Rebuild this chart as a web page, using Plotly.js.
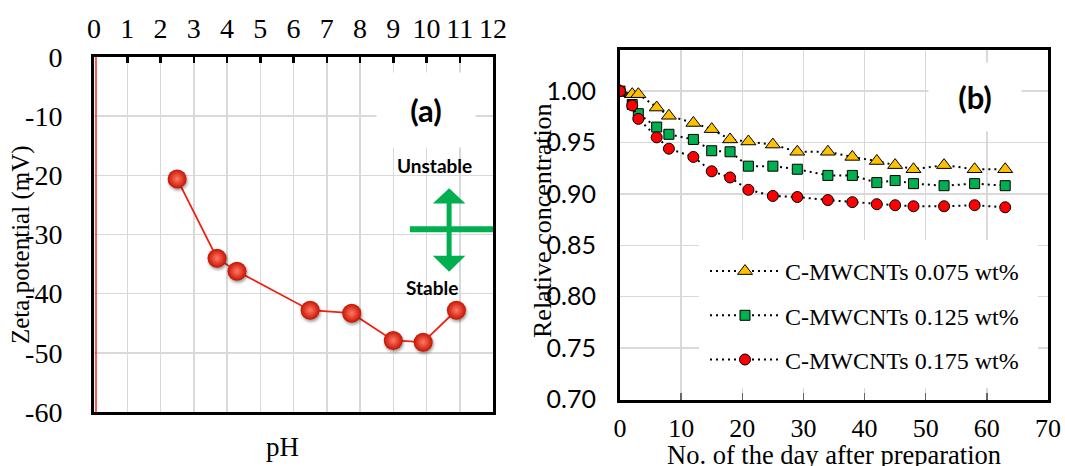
<!DOCTYPE html>
<html>
<head>
<meta charset="utf-8">
<script src="https://cdn.plot.ly/plotly-3.0.1.min.js"></script>
<style>
  html, body { margin: 0; padding: 0; background: #ffffff; }
  #chart { width: 1065px; height: 466px; }
  /* soft shadow under the zeta-potential spheres */
  #chart .xy .scatterlayer .points path { filter: drop-shadow(1.5px 2.5px 1.5px rgba(0,0,0,0.4)); }
</style>
</head>
<body>
<div id="chart"></div>
<script>
// ---- panel (a): zeta potential vs pH ----
const PH = [2.5, 3.7, 4.3, 6.5, 7.75, 9.0, 9.9, 10.9];
const ZETA = [-20.6, -34.0, -36.2, -42.8, -43.3, -47.9, -48.2, -42.8];
const ZETA_TICKS = [0, -10, -20, -30, -40, -50, -60];
const ZETA_TICK_TEXT = ['0', '-10', '-20', '-30', '-40', '-50', '-60'];

// ---- panel (b): relative concentration vs day ----
const DAYS = [0, 2, 3, 6, 8, 12, 15, 18, 21, 25, 29, 34, 38, 42, 45, 48, 53, 58, 63];
const CONC_075 = [1.000, 0.997, 0.997, 0.984, 0.976, 0.969, 0.963, 0.953, 0.951, 0.948, 0.941,
                  0.941, 0.936, 0.932, 0.928, 0.924, 0.928, 0.924, 0.924];
const CONC_125 = [1.000, 0.987, 0.978, 0.965, 0.958, 0.953, 0.942, 0.941, 0.927, 0.927, 0.924,
                  0.918, 0.918, 0.911, 0.913, 0.910, 0.908, 0.910, 0.908];
const CONC_175 = [1.000, 0.986, 0.973, 0.955, 0.944, 0.936, 0.922, 0.916, 0.904, 0.898, 0.897,
                  0.894, 0.892, 0.890, 0.889, 0.888, 0.888, 0.889, 0.887];
const SERIES_NAMES = ['C-MWCNTs 0.075 wt%', 'C-MWCNTs 0.125 wt%', 'C-MWCNTs 0.175 wt%'];

// ---- page geometry (px) ----
const W = 1065, H = 466;
const px = v => v / W;          // horizontal paper fraction
const py = v => 1 - v / H;      // vertical paper fraction (from top)

const SERIF = 'Liberation Serif, Times New Roman, serif';
const SANS = 'Lato, Carlito, Calibri, sans-serif';
const GRID = '#d9d9d9';
const GREEN = '#00b050';

const dotted = { color: '#000000', width: 2, dash: '2px,4px' };

const data = [
  {
    x: PH, y: ZETA, xaxis: 'x', yaxis: 'y',
    type: 'scatter', mode: 'lines+markers', showlegend: false,
    line: { color: '#ee2211', width: 1.8 },
    marker: { size: 19, color: '#c81200', gradient: { type: 'radial', color: '#ff7a66' },
              line: { width: 0 } }
  },
  {
    x: DAYS, y: CONC_075, xaxis: 'x2', yaxis: 'y2', name: SERIES_NAMES[0], legendgroup: 'g1',
    type: 'scatter', mode: 'lines+markers', line: dotted,
    marker: { symbol: 'triangle-up', size: 13, color: '#ffc000', line: { color: '#000', width: 1 } }
  },
  {
    x: DAYS, y: CONC_125, xaxis: 'x2', yaxis: 'y2', name: SERIES_NAMES[1], legendgroup: 'g2',
    type: 'scatter', mode: 'lines+markers', line: dotted,
    marker: { symbol: 'square', size: 10, color: '#00b050', line: { color: '#000', width: 1 } }
  },
  {
    x: DAYS, y: CONC_175, xaxis: 'x2', yaxis: 'y2', name: SERIES_NAMES[2], legendgroup: 'g3',
    type: 'scatter', mode: 'lines+markers', line: dotted,
    marker: { symbol: 'circle', size: 11, color: '#ff0000', line: { color: '#000', width: 1 } }
  }
];

const frame = { showline: true, linecolor: '#000000', linewidth: 3, mirror: true, zeroline: false };

const layout = {
  width: W, height: H,
  margin: { l: 0, r: 0, t: 0, b: 0 },
  paper_bgcolor: '#ffffff', plot_bgcolor: '#ffffff',
  showlegend: true,
  xaxis: Object.assign({}, frame, {
    domain: [px(94), px(493)], anchor: 'y', side: 'top',
    range: [0, 12], tick0: 0, dtick: 1,
    showgrid: true, gridcolor: GRID, gridwidth: 1.5,
    ticks: 'inside', ticklen: 6, tickwidth: 2.5, tickcolor: '#000',
    ticklabelstandoff: 5,
    tickfont: { family: SERIF, size: 28, color: '#000' }
  }),
  yaxis: Object.assign({}, frame, {
    domain: [py(412), py(57)], anchor: 'x',
    range: [-60, 0], tickvals: ZETA_TICKS, ticktext: ZETA_TICK_TEXT,
    showgrid: true, gridcolor: GRID, gridwidth: 1.5,
    ticks: '', ticklabelstandoff: 23,
    tickfont: { family: SERIF, size: 28, color: '#000' }
  }),
  xaxis2: Object.assign({}, frame, {
    domain: [px(620), px(1048)], anchor: 'y2',
    range: [0, 70], tick0: 0, dtick: 10,
    showgrid: true, gridcolor: GRID, gridwidth: 1.5,
    ticks: 'inside', ticklen: 7, tickwidth: 1.5, tickcolor: '#666',
    ticklabelstandoff: 3,
    tickfont: { family: SERIF, size: 26, color: '#000' }
  }),
  yaxis2: Object.assign({}, frame, {
    domain: [py(399.5), py(50)], anchor: 'x2',
    range: [0.70, 1.04], tick0: 0.70, dtick: 0.05, tickformat: '.2f',
    showgrid: true, gridcolor: GRID, gridwidth: 1.5,
    ticks: '', ticklabelstandoff: 16,
    tickfont: { family: SANS, size: 25, color: '#000' }
  }),
  legend: {
    x: px(705), xanchor: 'left', y: py(249), yanchor: 'top',
    bgcolor: 'rgba(0,0,0,0)', borderwidth: 0,
    traceorder: 'grouped', tracegroupgap: 10, itemwidth: 70,
    font: { family: SERIF, size: 24, color: '#000' }
  },
  shapes: [
    // legend backdrop
    { type: 'rect', xref: 'paper', yref: 'paper', layer: 'above',
      x0: px(699), x1: px(1038), y0: py(388), y1: py(240),
      fillcolor: '#ffffff', line: { width: 0 } },
    // red edge along the left border of panel (a)
    { type: 'line', xref: 'x', yref: 'y', layer: 'above',
      x0: 0.06, x1: 0.06, y0: 0, y1: -60, line: { color: '#ff0000', width: 1.3 } },
    // stability marker: horizontal bar and double-headed arrow
    { type: 'line', xref: 'x', yref: 'y', layer: 'above',
      x0: 9.5, x1: 12.1, y0: -29.1, y1: -29.1, line: { color: GREEN, width: 6 } },
    { type: 'line', xref: 'x', yref: 'y', layer: 'above',
      x0: 10.68, x1: 10.68, y0: -24.3, y1: -34.0, line: { color: GREEN, width: 5 } },
    { type: 'path', xref: 'x', yref: 'y', layer: 'above',
      path: 'M10.19,-24.75 L10.68,-22.2 L11.17,-24.75 Z', fillcolor: GREEN, line: { width: 0 } },
    { type: 'path', xref: 'x', yref: 'y', layer: 'above',
      path: 'M10.19,-33.6 L10.68,-36.3 L11.17,-33.6 Z', fillcolor: GREEN, line: { width: 0 } }
  ],
  annotations: [
    { text: '<b>(a)</b>', xref: 'x', yref: 'y', x: 9.98, y: -8.9, showarrow: false,
      xanchor: 'center', yanchor: 'middle',
      bgcolor: '#ffffff', width: 96, height: 72,
      font: { family: SANS, size: 31, color: '#000' } },
    { text: '<b>(b)</b>', xref: 'x2', yref: 'y2', x: 58.0, y: 0.9946, showarrow: false,
      xanchor: 'center', yanchor: 'middle',
      bgcolor: '#ffffff', width: 90, height: 66,
      font: { family: SANS, size: 31, color: '#000' } },
    { text: '<b>Unstable</b>', xref: 'x', yref: 'y', x: 10.23, y: -18.4, showarrow: false,
      xanchor: 'center', yanchor: 'middle',
      font: { family: SANS, size: 19, color: '#000' } },
    { text: '<b>Stable</b>', xref: 'x', yref: 'y', x: 10.17, y: -38.9, showarrow: false,
      xanchor: 'center', yanchor: 'middle',
      font: { family: SANS, size: 19, color: '#000' } },
    { text: 'Zeta potential (mV)', xref: 'paper', yref: 'paper', x: px(21), y: py(245),
      xanchor: 'center', yanchor: 'middle', textangle: -90, showarrow: false,
      font: { family: SERIF, size: 25, color: '#000' } },
    { text: 'pH', xref: 'paper', yref: 'paper', x: px(282), y: py(447), showarrow: false,
      xanchor: 'center', yanchor: 'middle',
      font: { family: SERIF, size: 27, color: '#000' } },
    { text: 'Relative concentration', xref: 'paper', yref: 'paper', x: px(543), y: py(221),
      xanchor: 'center', yanchor: 'middle', textangle: -90, showarrow: false,
      font: { family: SERIF, size: 26, color: '#000' } },
    { text: 'No. of the day after preparation', xref: 'paper', yref: 'paper',
      x: px(834), y: py(455), xanchor: 'center', yanchor: 'middle', showarrow: false,
      font: { family: SERIF, size: 26.5, color: '#000' } }
  ]
};

Plotly.newPlot('chart', data, layout, { staticPlot: true, displayModeBar: false });
</script>
</body>
</html>
